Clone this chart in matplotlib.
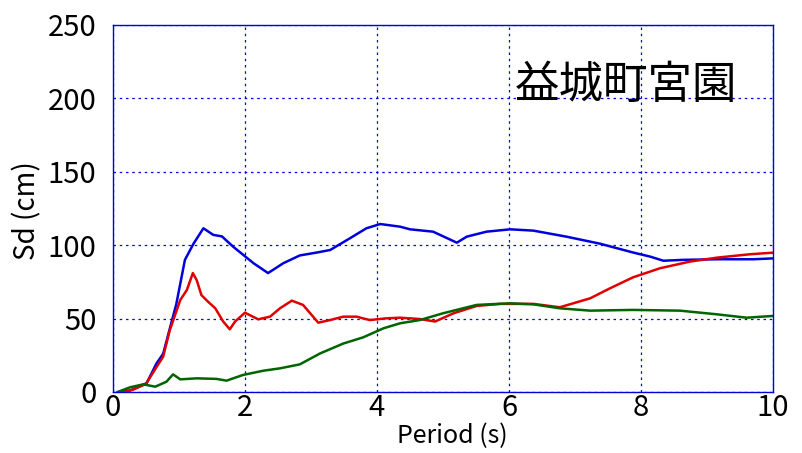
import matplotlib
matplotlib.use("Agg")
import matplotlib.pyplot as plt

plt.rcParams['font.family'] = ['Noto Sans CJK JP', 'DejaVu Sans']

# Sd spectra
blue_period = [0.1, 0.26, 0.51, 0.66, 0.76, 0.96, 1.09, 1.22, 1.37, 1.52, 1.65, 1.82,
               2.13, 2.35, 2.58, 2.83, 3.09, 3.29, 3.59, 3.84, 4.05, 4.35, 4.5, 4.85,
               5.21, 5.36, 5.66, 6.02, 6.37, 6.87, 7.38, 7.88, 8.14, 8.34, 8.64, 9.15,
               9.7, 10.0]
blue_sd = [0, 1, 6, 19.5, 26, 60, 90, 101, 111.5, 107, 106, 99,
           87.7, 81, 87.7, 93, 95, 96.7, 104.7, 111.5, 114.4, 112.6, 110.8, 109.2,
           101.7, 105.8, 109.2, 110.8, 109.9, 105.8, 101, 95, 92.2, 89.4, 90, 90.4,
           90.4, 91]

red_period = [0.1, 0.3, 0.5, 0.66, 0.76, 0.86, 1.02, 1.12, 1.21, 1.27, 1.34, 1.44,
              1.55, 1.67, 1.77, 1.85, 2.0, 2.2, 2.38, 2.53, 2.71, 2.88, 3.11, 3.29,
              3.49, 3.69, 3.89, 4.15, 4.35, 4.65, 4.88, 5.16, 5.51, 5.86, 6.37, 6.77,
              7.23, 7.53, 7.88, 8.29, 8.74, 9.15, 9.65, 10.0]
red_sd = [0, 1.5, 5.5, 17, 24, 42, 62.7, 69.5, 81, 76, 66, 61.5,
          57, 48, 42.7, 48, 54, 49.5, 51.3, 57, 62.2, 59.3, 47.2, 49,
          51.3, 51.3, 49, 50.2, 50.6, 49.7, 48, 53.6, 58.6, 60, 60, 57.7,
          63.8, 70.6, 78.1, 84.3, 88.8, 91.5, 93.8, 94.9]

green_period = [0.07, 0.26, 0.46, 0.64, 0.81, 0.91, 1.02, 1.27, 1.57, 1.72, 1.97,
                2.28, 2.53, 2.83, 3.14, 3.49, 3.79, 4.1, 4.35, 4.65, 5.0, 5.51,
                6.02, 6.37, 6.77, 7.23, 7.88, 8.59, 9.15, 9.6, 10.0]
green_sd = [0, 3.2, 5.2, 3.6, 7, 12, 8.6, 9.3, 8.9, 7.7, 11.6,
            14.5, 16.1, 18.8, 26.3, 33, 37.2, 43.4, 46.8, 49, 53.6, 59.3,
            60.4, 59.7, 57, 55.4, 55.9, 55.4, 52.9, 50.6, 51.8]

x_ticks = [0, 2, 4, 6, 8, 10]
y_ticks = [0, 50, 100, 150, 200, 250]
site_name = "益城町宮園"

fig = plt.figure(figsize=(8.03, 4.53), dpi=100)
ax = fig.add_axes([0.1407, 0.1347, 0.8219, 0.8102])

ax.plot(blue_period, blue_sd, color='#0000dd', lw=1.8)
ax.plot(red_period, red_sd, color='#e00000', lw=1.8)
ax.plot(green_period, green_sd, color='#006400', lw=1.8)

ax.set_xlim(0, 10)
ax.set_ylim(0, 250)
ax.set_xticks(x_ticks)
ax.set_yticks(y_ticks)
ax.grid(True, color='#0000ee', linestyle=(0, (2, 3)), linewidth=0.9)
for sp in ax.spines.values():
    sp.set_color('#0000dd')
    sp.set_linewidth(1.0)
ax.tick_params(length=0, labelsize=21)
ax.tick_params(axis='y', pad=12)
ax.tick_params(axis='x', pad=1)

ax.text(0.777, 0.836, site_name, transform=ax.transAxes, fontsize=32,
        ha='center', va='center')

fig.text(0.034, 0.536, "Sd (cm)", rotation=90, fontsize=20, ha='center', va='center')
fig.text(0.563, 0.037, "Period (s)", fontsize=18, ha='center', va='center')

fig.savefig("out.png", dpi=100)
